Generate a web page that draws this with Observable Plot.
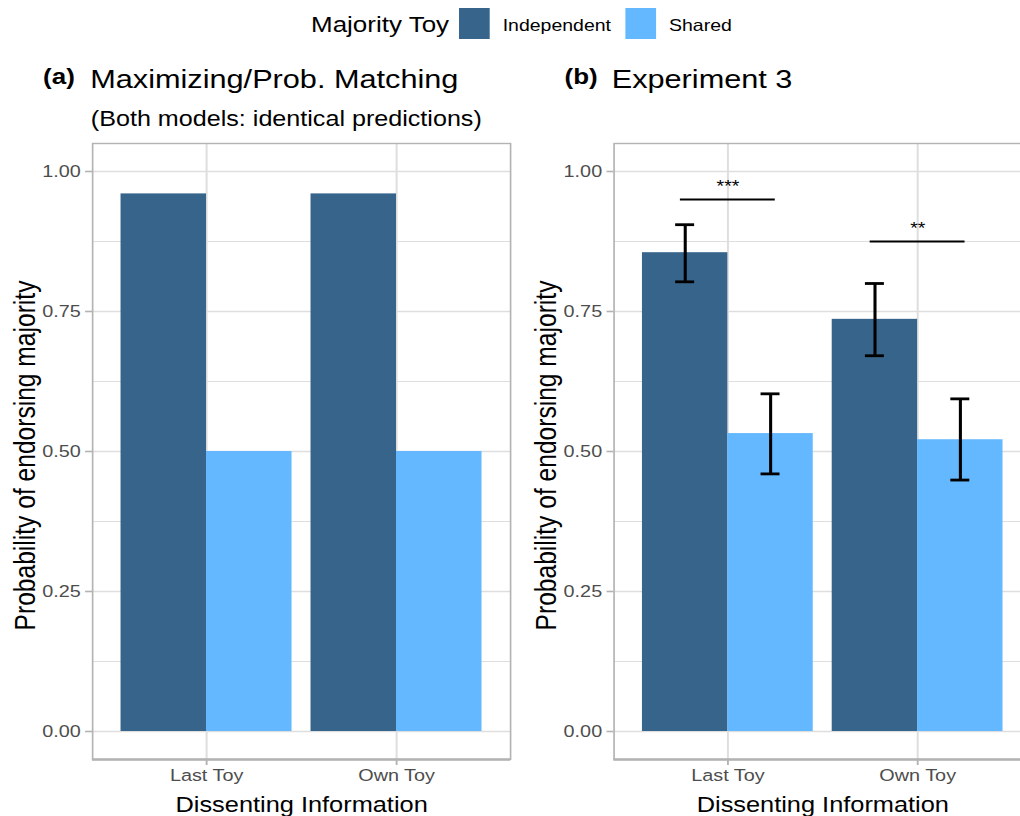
<!DOCTYPE html>
<html>
<head>
<meta charset="utf-8">
<script src="https://cdn.jsdelivr.net/npm/d3@7"></script>
<script src="https://cdn.jsdelivr.net/npm/@observablehq/plot@0.6"></script>
<style>
  html, body { margin: 0; padding: 0; background: white; overflow: hidden; }
  #stage {
    position: relative; width: 865px; height: 816px; overflow: hidden;
    transform: scaleX(1.18); transform-origin: 0 0;
    font-family: "Liberation Sans", Arial, Helvetica, sans-serif;
  }
  .panel { position: absolute; top: 0; }
  .panel svg { max-width: none !important; overflow: visible; }
  .panel g[aria-label$="-axis"] { color: #4d4d4d; font-size: 16.8px; font-family: "Liberation Sans", Arial, sans-serif; }
  .panel g[aria-label$="-axis"] line, .panel g[aria-label$="-axis"] path { stroke: #b3b3b3; stroke-width: 1.6px; }
  .panel g[aria-label$="-axis tick"] { stroke: #b3b3b3; stroke-width: 1.6px; }
  .panel g[aria-label$="-axis tick label"] { fill: #4d4d4d; font-size: 16.8px; }
  .legend-item { position: absolute; white-space: nowrap; line-height: 1; }
</style>
</head>
<body>
<div id="stage">
  <div id="pa" class="panel" style="left:0px"></div>
  <div id="pb" class="panel" style="left:440px"></div>
  <div id="legend"></div>
</div>
<script>
// ---------- data ----------
const categories = ["Last Toy", "Own Toy"];
const groups = ["Independent", "Shared"];
const groupColors = ["#36648B", "#63B8FF"];
const legendTitle = "Majority Toy";

// (a) model predictions
const modelIndependent = [0.96, 0.96];
const modelShared = [0.50, 0.50];

// (b) Experiment 3 means and error bars
const expIndependent = [0.855, 0.736];
const expShared = [0.532, 0.521];
const expIndependentLow = [0.803, 0.671];
const expIndependentHigh = [0.905, 0.800];
const expSharedLow = [0.460, 0.449];
const expSharedHigh = [0.603, 0.594];

// significance brackets (one per category)
const sigLabels = ["***", "**"];
const sigHeights = [0.95, 0.875];

const yTicks = [0, 0.25, 0.5, 0.75, 1];
const yMinorTicks = [0.125, 0.375, 0.625, 0.875];
const yDomain = [-0.05, 1.05];

const xTitle = "Dissenting Information";
const yTitle = "Probability of endorsing majority";

// ---------- layout constants ----------
const dodge = 0.45;      // half of total bar group width (0.9)
const capHalf = 0.05;    // error-bar cap half width
const sigHalf = 0.25;    // significance bracket half width
const positions = categories.map((c, i) => i + 1);
const gridColor = "#dedede";
const borderColor = "#b3b3b3";
const FONT = '"Liberation Sans", Arial, Helvetica, sans-serif';

function buildRows(seriesList) {
  const rows = [];
  categories.forEach((cat, i) => {
    seriesList.forEach((s, g) => {
      const x1 = positions[i] - dodge + g * dodge;
      rows.push({
        category: cat, group: groups[g], value: s.values[i],
        lo: s.low ? s.low[i] : null, hi: s.high ? s.high[i] : null,
        x1, x2: x1 + dodge, xc: x1 + dodge / 2
      });
    });
  });
  return rows;
}

const rowsA = buildRows([{values: modelIndependent}, {values: modelShared}]);
const rowsB = buildRows([
  {values: expIndependent, low: expIndependentLow, high: expIndependentHigh},
  {values: expShared, low: expSharedLow, high: expSharedHigh}
]);
const sigRows = categories.map((c, i) => ({pos: positions[i], y: sigHeights[i], label: sigLabels[i]}));

function panel({rows, errors, sig, tag, title, subtitle, width, marginLeft, marginRight}) {
  const marks = [
    Plot.ruleY(yMinorTicks, {stroke: gridColor, strokeWidth: 1}),
    Plot.ruleY(yTicks, {stroke: gridColor, strokeWidth: 1.7}),
    Plot.ruleX(positions, {stroke: gridColor, strokeWidth: 1.7}),
    Plot.rectY(rows, {x1: "x1", x2: "x2", y: "value", fill: "group"})
  ];
  if (errors) {
    marks.push(
      Plot.ruleX(rows, {x: "xc", y1: "lo", y2: "hi", stroke: "black", strokeWidth: 2.6}),
      Plot.ruleY(rows, {y: "hi", x1: d => d.xc - capHalf, x2: d => d.xc + capHalf, stroke: "black", strokeWidth: 2.8}),
      Plot.ruleY(rows, {y: "lo", x1: d => d.xc - capHalf, x2: d => d.xc + capHalf, stroke: "black", strokeWidth: 2.8})
    );
  }
  if (sig) {
    marks.push(
      Plot.ruleY(sig, {y: "y", x1: d => d.pos - sigHalf, x2: d => d.pos + sigHalf, stroke: "black", strokeWidth: 2}),
      Plot.text(sig, {x: "pos", y: "y", text: "label", lineAnchor: "bottom", dy: -8, fontSize: 16.5, fill: "black"})
    );
  }
  marks.push(
    Plot.frame({stroke: borderColor, strokeWidth: 1.4}),
    Plot.ruleY([yDomain[0]], {stroke: borderColor, strokeWidth: 2.3}),
    // tag + title + subtitle
    Plot.text([tag], {text: d => d, frameAnchor: "top-left", textAnchor: "start", lineAnchor: "bottom",
      dx: -42, dy: -60, fontSize: 22, fontWeight: "bold", fill: "black"}),
    Plot.text([title], {text: d => d, frameAnchor: "top-left", textAnchor: "start", lineAnchor: "bottom",
      dx: -2, dy: -56, fontSize: 26, fill: "black"})
  );
  if (subtitle) {
    marks.push(Plot.text([subtitle], {text: d => d, frameAnchor: "top-left", textAnchor: "start", lineAnchor: "bottom",
      dx: -1.5, dy: -18, fontSize: 21.3, fill: "black"}));
  }
  marks.push(
    Plot.text([xTitle], {text: d => d, frameAnchor: "bottom", textAnchor: "middle", lineAnchor: "bottom", dy: 52.5, fontSize: 21.5, fill: "black"}),
    Plot.text([yTitle], {text: d => d, frameAnchor: "left", textAnchor: "middle", lineAnchor: "bottom", rotate: -90, dx: -49.2, dy: 4, fontSize: 24.6, fill: "black"})
  );
  return Plot.plot({
    width, height: 816, marginLeft, marginRight, marginTop: 143, marginBottom: 57,
    style: {fontFamily: FONT, fontSize: "16.8px", background: "white", color: "black", overflow: "visible"},
    x: {domain: [0.4, 2.6], ticks: positions, tickFormat: i => categories[i - 1], tickSize: 6, tickPadding: 4, label: null},
    y: {domain: yDomain, ticks: yTicks, tickFormat: d3.format(".2f"), tickSize: 5.9, tickPadding: 4.2, label: null},
    color: {domain: groups, range: groupColors},
    marks
  });
}

document.getElementById("pa").appendChild(panel({
  rows: rowsA, errors: false, sig: null, tag: "(a)", title: "Maximizing/Prob. Matching",
  subtitle: "(Both models: identical predictions)", width: 440, marginLeft: 78, marginRight: 7.8
}));
document.getElementById("pb").appendChild(panel({
  rows: rowsB, errors: true, sig: sigRows, tag: "(b)", title: "Experiment 3",
  subtitle: null, width: 440, marginLeft: 79.9, marginRight: 6.3
}));

// ---------- legend ----------
const legend = document.getElementById("legend");
function addEl(html, style) {
  const el = document.createElement("div");
  el.className = "legend-item";
  el.style.cssText += style;
  el.textContent = html;
  legend.appendChild(el);
  return el;
}
addEl(legendTitle, "left:263.6px; top:14.4px; font-size:22px; color:black;");
const swatchLeft = [389, 529.7];
const labelLeft = [426, 567];
groups.forEach((g, i) => {
  const sw = document.createElement("div");
  sw.style.cssText = `position:absolute; left:${swatchLeft[i]}px; top:7.7px; width:26.3px; height:31px; background:${groupColors[i]};`;
  legend.appendChild(sw);
  addEl(g, `left:${labelLeft[i]}px; top:16.7px; font-size:16.5px; color:black;`);
});
</script>
</body>
</html>
